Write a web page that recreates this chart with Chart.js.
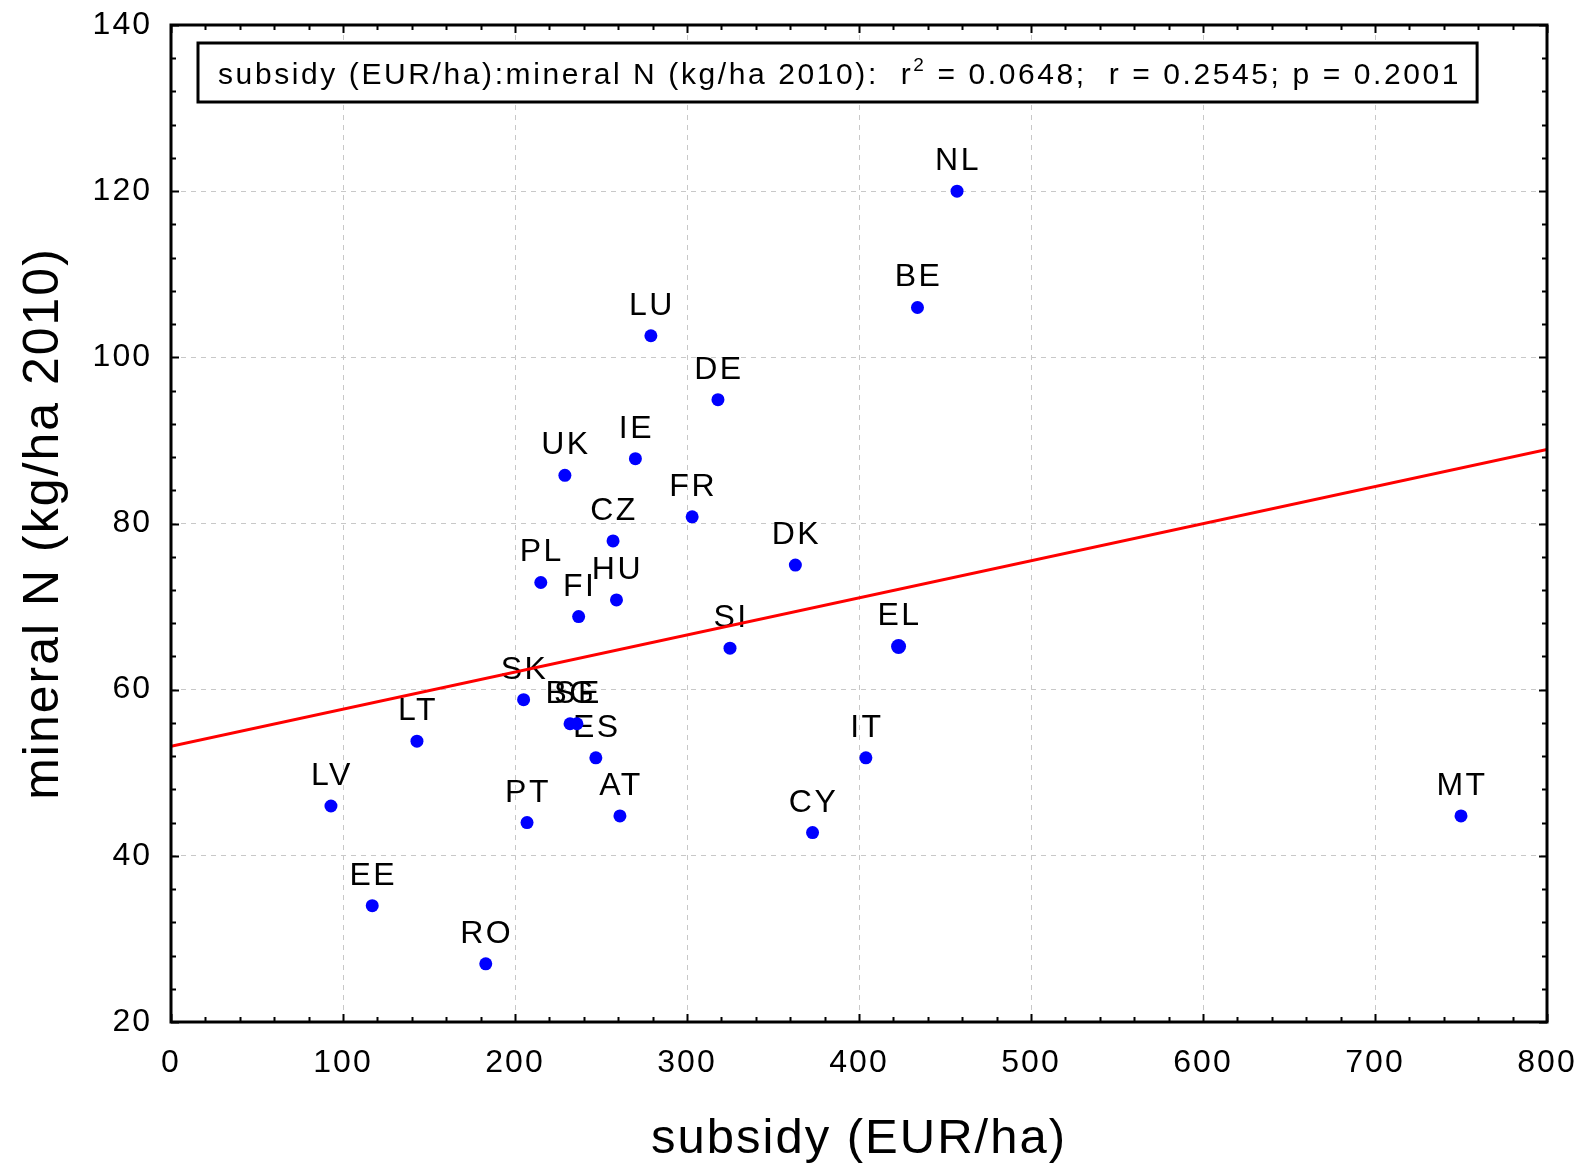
<!DOCTYPE html>
<html>
<head>
<meta charset="utf-8">
<script src="https://cdn.jsdelivr.net/npm/chart.js@4/dist/chart.umd.min.js"></script>
<style>
  html, body { margin: 0; padding: 0; background: #fff; }
</style>
</head>
<body>
<canvas id="chart" width="1580" height="1165"></canvas>
<script>
const countries = ["NL", "BE", "LU", "DE", "IE", "UK", "FR", "CZ", "DK", "PL", "HU", "FI", "SI", "EL",
                   "SK", "BG", "SE", "ES", "AT", "LT", "LV", "PT", "EE", "RO", "CY", "IT", "MT"];
const subsidy = [457, 434, 279, 318, 270, 229, 303, 257, 363, 215, 259, 237, 325, 423,
                 205, 232, 236, 247, 261, 143, 93, 207, 117, 183, 373, 404, 750];
const mineralN = [120, 106, 102.6, 94.9, 87.8, 85.8, 80.8, 77.9, 75, 72.9, 70.8, 68.8, 65, 65.2,
                  58.8, 55.9, 55.9, 51.8, 44.8, 53.8, 46, 44, 34, 27, 42.8, 51.8, 44.8];
const fitX = [0, 800];
const fitY = [53.2, 88.9];
const xTicks = [0, 100, 200, 300, 400, 500, 600, 700, 800];
const yTicks = [20, 40, 60, 80, 100, 120, 140];
const statsBefore = "subsidy (EUR/ha):mineral N (kg/ha 2010):  r";
const statsSup = "2";
const statsAfter = " = 0.0648;  r = 0.2545; p = 0.2001";

const FONT = '"Liberation Sans", Arial, sans-serif';

// the original export uses loosely spaced text
const spacing = {
    id: 'spacing',
    beforeDraw(chart) { chart.ctx.letterSpacing = '2px'; }
};

// labels above points, drawn under the datasets so the fit line crosses them
const labelPlugin = {
    id: 'pointLabels',
    beforeDatasetsDraw(chart) {
        const ctx = chart.ctx;
        const xs = chart.scales.x, ys = chart.scales.y;
        ctx.save();
        ctx.font = '32px ' + FONT;
        ctx.letterSpacing = '2.5px';
        ctx.fillStyle = '#000';
        ctx.textAlign = 'center';
        ctx.textBaseline = 'alphabetic';
        countries.forEach((c, i) => {
            const px = xs.getPixelForValue(subsidy[i]);
            const py = ys.getPixelForValue(mineralN[i]);
            ctx.fillText(c, px + 1, py - 21);
        });
        ctx.restore();
    }
};

// frame, inward ticks on all four sides, stats box
const framePlugin = {
    id: 'frame',
    afterDraw(chart) {
        const ctx = chart.ctx;
        const a = chart.chartArea;
        const xs = chart.scales.x, ys = chart.scales.y;
        ctx.save();
        ctx.strokeStyle = '#000';
        ctx.lineWidth = 2;
        for (let v = 0; v <= 800; v += 20) {
            const px = Math.round(xs.getPixelForValue(v)) + 0.5;
            const len = v % 100 === 0 ? 8 : 5;
            ctx.beginPath();
            ctx.moveTo(px, a.bottom); ctx.lineTo(px, a.bottom - len);
            ctx.moveTo(px, a.top); ctx.lineTo(px, a.top + len);
            ctx.stroke();
        }
        for (let v = 20; v <= 140; v += 4) {
            const py = Math.round(ys.getPixelForValue(v)) + 0.5;
            const len = v % 20 === 0 ? 8 : 5;
            ctx.beginPath();
            ctx.moveTo(a.left, py); ctx.lineTo(a.left + len, py);
            ctx.moveTo(a.right, py); ctx.lineTo(a.right - len, py);
            ctx.stroke();
        }
        ctx.lineWidth = 3;
        ctx.strokeRect(a.left, a.top, a.right - a.left, a.bottom - a.top);

        // stats box
        ctx.letterSpacing = '2.6px';
        ctx.font = '30px ' + FONT;
        const w1 = ctx.measureText(statsBefore).width;
        ctx.font = '19px ' + FONT;
        const w2 = ctx.measureText(statsSup).width;
        ctx.font = '30px ' + FONT;
        const w3 = ctx.measureText(statsAfter).width;
        const bx = a.left + 27, by = a.top + 18;
        const bw = w1 + w2 + w3 + 36, bh = 59;
        ctx.fillStyle = '#fff';
        ctx.fillRect(bx, by, bw, bh);
        ctx.lineWidth = 3;
        ctx.strokeRect(bx, by, bw, bh);
        ctx.fillStyle = '#000';
        ctx.textAlign = 'left';
        ctx.textBaseline = 'alphabetic';
        const base = by + bh / 2 + 11;
        ctx.fillText(statsBefore, bx + 20, base);
        ctx.font = '19px ' + FONT;
        ctx.fillText(statsSup, bx + 20 + w1, base - 13);
        ctx.font = '30px ' + FONT;
        ctx.fillText(statsAfter, bx + 20 + w1 + w2, base);
        ctx.restore();
        ctx.letterSpacing = '0px';
    }
};

// drop the room Chart.js keeps for overhanging tick labels
function noScalePadding(scale) {
    scale.paddingTop = 0;
    scale.paddingBottom = 0;
    scale.paddingLeft = 0;
    scale.paddingRight = 0;
}

new Chart(document.getElementById('chart'), {
    type: 'scatter',
    data: {
        datasets: [
            {
                label: 'fit',
                data: fitX.map((x, i) => ({ x: x, y: fitY[i] })),
                showLine: true,
                borderColor: '#ff0000',
                borderWidth: 3,
                pointRadius: 0,
                order: 0
            },
            {
                label: 'countries',
                data: subsidy.map((x, i) => ({ x: x, y: mineralN[i] })),
                backgroundColor: '#0000ff',
                borderColor: '#0000ff',
                borderWidth: 0,
                pointRadius: countries.map(c => c === 'EL' ? 7.5 : 6.5),
                order: 1
            }
        ]
    },
    options: {
        responsive: false,
        animation: false,
        layout: { autoPadding: false, padding: { top: 25, right: 33, left: 0, bottom: 0 } },
        plugins: {
            legend: { display: false },
            tooltip: { enabled: false }
        },
        scales: {
            x: {
                type: 'linear',
                min: 0,
                max: 800,
                afterBuildTicks: (scale) => { scale.ticks = xTicks.map(v => ({ value: v })); },
                afterFit: (scale) => { scale.height = 143; noScalePadding(scale); },
                grid: { color: '#c8c8c8', lineWidth: 1, drawTicks: false },
                border: { display: false, dash: [5, 5] },
                ticks: { color: '#000', font: { family: FONT, size: 32 }, padding: 22, maxRotation: 0 },
                title: {
                    display: true,
                    text: 'subsidy (EUR/ha)',
                    color: '#000',
                    font: { family: FONT, size: 49, lineHeight: 1.05 },
                    padding: { top: 0, bottom: 0 }
                }
            },
            y: {
                type: 'linear',
                min: 20,
                max: 140,
                afterBuildTicks: (scale) => { scale.ticks = yTicks.map(v => ({ value: v })); },
                afterFit: (scale) => { scale.width = 171; noScalePadding(scale); },
                grid: { color: '#c8c8c8', lineWidth: 1, drawTicks: false },
                border: { display: false, dash: [5, 5] },
                ticks: { color: '#000', font: { family: FONT, size: 32 }, padding: 19 },
                title: {
                    display: true,
                    text: 'mineral N (kg/ha 2010)',
                    color: '#000',
                    font: { family: FONT, size: 50 },
                    padding: { top: 14, bottom: 0 }
                }
            }
        }
    },
    plugins: [spacing, labelPlugin, framePlugin]
});
</script>
</body>
</html>
